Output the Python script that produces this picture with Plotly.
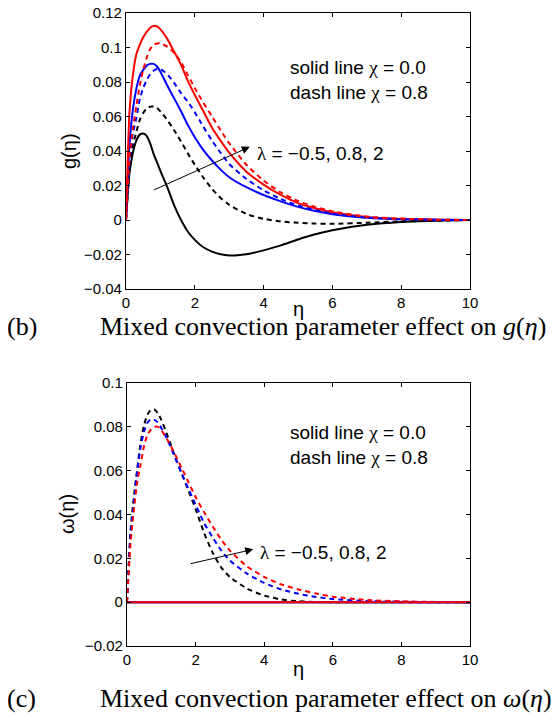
import plotly.graph_objects as go

# ---------------- data ----------------
eta = [0, 0.1, 0.2, 0.3, 0.4, 0.5, 0.6, 0.7, 0.8, 0.9, 1.0, 1.2, 1.4, 1.6, 1.8, 2.0,
       2.25, 2.5, 2.75, 3.0, 3.5, 4.0, 4.5, 5.0, 5.5, 6.0, 7.0, 8.0, 9.0, 10.0]

# g(eta) : solid chi = 0.0
g_lm05_x0 = [0, 0.027, 0.039, 0.046, 0.0495, 0.0502, 0.0488, 0.0445, 0.0385, 0.0335, 0.0285,
             0.019, 0.0085, 0.0, -0.0068, -0.0115, -0.0158, -0.0183, -0.0199, -0.0206,
             -0.0198, -0.0176, -0.0147, -0.0113, -0.0083, -0.0059, -0.0028, -0.0011, -0.0004, 0]
g_l08_x0 = [0, 0.043, 0.064, 0.076, 0.0835, 0.087, 0.0895, 0.0905, 0.0905, 0.089, 0.086,
            0.078, 0.0705, 0.063, 0.055, 0.048, 0.0405, 0.0345, 0.0292, 0.0248,
            0.0190, 0.0145, 0.0108, 0.0076, 0.0052, 0.0034, 0.0013, 0.0004, 0.0001, 0]
g_l2_x0 = [0, 0.062, 0.084, 0.096, 0.1015, 0.106, 0.109, 0.1115, 0.1125, 0.1122, 0.1105,
           0.105, 0.0975, 0.090, 0.0805, 0.0725, 0.063, 0.0535, 0.046, 0.039,
           0.028, 0.0205, 0.0145, 0.0098, 0.0068, 0.0045, 0.0018, 0.0007, 0.0002, 0]
# g(eta) : dashed chi = 0.8
g_lm05_x8 = [0, 0.029, 0.043, 0.051, 0.058, 0.062, 0.0645, 0.0657, 0.0658, 0.065, 0.063,
             0.058, 0.052, 0.0455, 0.0385, 0.032, 0.0245, 0.018, 0.0128, 0.0088,
             0.0035, 0.0007, -0.0008, -0.0016, -0.0021, -0.0022, -0.0016, -0.0008, -0.0003, 0]
g_l08_x8 = [0, 0.033, 0.05, 0.059, 0.070, 0.0765, 0.081, 0.0845, 0.0865, 0.0875, 0.0875,
            0.0845, 0.0795, 0.0735, 0.0685, 0.0625, 0.054, 0.046, 0.039, 0.0325,
            0.0238, 0.0172, 0.0122, 0.0084, 0.0057, 0.0037, 0.0014, 0.0005, 0.0001, 0]
g_l2_x8 = [0, 0.036, 0.053, 0.066, 0.078, 0.087, 0.094, 0.099, 0.1015, 0.1023, 0.1024,
           0.1005, 0.0968, 0.0915, 0.084, 0.0765, 0.068, 0.060, 0.052, 0.0445,
           0.032, 0.0228, 0.016, 0.011, 0.0076, 0.005, 0.002, 0.0008, 0.0002, 0]

# omega(eta) : solid chi = 0.0 (all zero)
w_lm05_x0 = [0.0] * len(eta)
w_l08_x0 = [0.0] * len(eta)
w_l2_x0 = [0.0] * len(eta)
# omega(eta) : dashed chi = 0.8
w_lm05_x8 = [0, 0.032, 0.048, 0.061, 0.073, 0.081, 0.0857, 0.0878, 0.0879, 0.0862, 0.0832,
             0.0752, 0.0665, 0.0585, 0.0505, 0.0425, 0.0315, 0.0225, 0.0158, 0.0115,
             0.0062, 0.003, 0.0012, 0.0004, 0.0001, 0, 0, 0, 0, 0]
w_l08_x8 = [0, 0.030, 0.046, 0.060, 0.071, 0.078, 0.082, 0.0835, 0.0832, 0.082, 0.0795,
            0.0735, 0.066, 0.0585, 0.0515, 0.0445, 0.036, 0.0295, 0.0235, 0.019,
            0.013, 0.0088, 0.0058, 0.0038, 0.0024, 0.0014, 0.0005, 0.0002, 0, 0]
w_l2_x8 = [0, 0.026, 0.042, 0.055, 0.063, 0.0715, 0.0765, 0.0788, 0.080, 0.080, 0.0785,
           0.0735, 0.0675, 0.061, 0.0545, 0.048, 0.041, 0.0345, 0.0285, 0.0235,
           0.0163, 0.0115, 0.0081, 0.0058, 0.004, 0.0025, 0.001, 0.0004, 0.0001, 0]

x_ticks = [0, 2, 4, 6, 8, 10]
g_ticks = [-0.04, -0.02, 0, 0.02, 0.04, 0.06, 0.08, 0.1, 0.12]
g_ticktext = ["\u22120.04", "\u22120.02", "0", "0.02", "0.04", "0.06", "0.08", "0.1", "0.12"]
w_ticks = [-0.02, 0, 0.02, 0.04, 0.06, 0.08, 0.1]
w_ticktext = ["\u22120.02", "0", "0.02", "0.04", "0.06", "0.08", "0.1"]

colors = ["black", "blue", "red"]

# ---------------- figure ----------------
# the page body adds an 8px margin, so the figure is laid out 8px smaller
OFF = 8
W, H = 560 - OFF, 719 - OFF
fig = go.Figure()

solid_g = [g_lm05_x0, g_l08_x0, g_l2_x0]
dash_g = [g_lm05_x8, g_l08_x8, g_l2_x8]
solid_w = [w_lm05_x0, w_l08_x0, w_l2_x0]
dash_w = [w_lm05_x8, w_l08_x8, w_l2_x8]

DASH = "5px,4px"
for ys, c in zip(solid_g, colors):
    fig.add_trace(go.Scatter(x=eta, y=ys, mode="lines", line=dict(color=c, width=2, shape="spline", smoothing=0.6),
                             xaxis="x", yaxis="y", showlegend=False))
for ys, c in zip(dash_g, colors):
    fig.add_trace(go.Scatter(x=eta, y=ys, mode="lines", line=dict(color=c, width=2, dash=DASH, shape="spline", smoothing=0.6),
                             xaxis="x", yaxis="y", showlegend=False))
for ys, c in zip(dash_w, colors):
    fig.add_trace(go.Scatter(x=eta, y=ys, mode="lines", line=dict(color=c, width=2, dash=DASH, shape="spline", smoothing=0.6),
                             xaxis="x2", yaxis="y2", showlegend=False))
for ys, c in zip(solid_w, colors):
    fig.add_trace(go.Scatter(x=eta, y=ys, mode="lines", line=dict(color=c, width=2),
                             xaxis="x2", yaxis="y2", showlegend=False))


def px(x):
    return (x - OFF) / W


def py(y):
    return 1 - (y - OFF) / H


axis_common = dict(showline=True, linecolor="black", linewidth=1.3, mirror="allticks",
                   ticks="inside", ticklen=4, tickwidth=1, tickcolor="black",
                   showgrid=False, zeroline=False, automargin=False, ticklabeloverflow="allow",
                   tickfont=dict(family="Liberation Sans, Arial", size=15, color="black"))

fig.update_layout(
    width=W, height=H,
    margin=dict(l=0, r=0, t=0, b=0, pad=0),
    paper_bgcolor="white", plot_bgcolor="white",
    xaxis=dict(domain=[px(126), px(470)], range=[0, 10], tickvals=x_ticks, anchor="y", **axis_common),
    yaxis=dict(domain=[py(289), py(13)], range=[-0.04, 0.12], tickvals=g_ticks, ticktext=g_ticktext,
               anchor="x", **axis_common),
    xaxis2=dict(domain=[px(127), px(470)], range=[0, 10], tickvals=x_ticks, anchor="y2", **axis_common),
    yaxis2=dict(domain=[py(646), py(383)], range=[-0.02, 0.1], tickvals=w_ticks, ticktext=w_ticktext,
                anchor="x2", **axis_common),
)

sans = "Liberation Sans, Arial"
serif = "Liberation Serif, Times New Roman"
ann = []


def text(x, y, t, size=19, family=sans, xanchor="left", angle=0):
    ann.append(dict(x=px(x), y=py(y), xref="paper", yref="paper", text=t, showarrow=False,
                    xanchor=xanchor, yanchor="middle", textangle=angle,
                    font=dict(family=family, size=size, color="black")))


chi = '<span style="font-family:Liberation Serif">\u03c7</span>'
lam = '<span style="font-family:Liberation Serif">\u03bb</span>'

# plot (b)
text(288, 67, "solid line " + chi + " = 0.0")
text(288, 92, "dash line " + chi + " = 0.8")
text(255, 153, lam + " = \u22120.5, 0.8, 2")
text(69, 151, "g(\u03b7)", size=20, xanchor="center", angle=-90)
text(298, 309, "\u03b7", size=20, xanchor="center")
text(5, 327, "(b)", size=26, family=serif)
text(98, 327, "Mixed convection parameter effect on <i>g</i>(<i>\u03b7</i>)", size=26, family=serif)

# plot (c)
text(288, 433, "solid line " + chi + " = 0.0")
text(288, 457, "dash line " + chi + " = 0.8")
text(258, 552, lam + " = \u22120.5, 0.8, 2")
text(67, 514, "\u03c9(\u03b7)", size=20, xanchor="center", angle=-90)
text(298, 669, "\u03b7", size=20, xanchor="center")
text(5, 698, "(c)", size=26, family=serif)
text(98, 698, "Mixed convection parameter effect on <i>\u03c9</i>(<i>\u03b7</i>)", size=26, family=serif)

# arrows (data coordinates)
arrow_g = dict(tail=(0.765, 0.017), head=(3.6, 0.0424))
arrow_w = dict(tail=(1.81, 0.0174), head=(3.68, 0.0241))
ann.append(dict(x=arrow_g["head"][0], y=arrow_g["head"][1], ax=arrow_g["tail"][0], ay=arrow_g["tail"][1],
                xref="x", yref="y", axref="x", ayref="y", text="", showarrow=True,
                arrowhead=2, arrowsize=1.6, arrowwidth=1, arrowcolor="black"))
ann.append(dict(x=arrow_w["head"][0], y=arrow_w["head"][1], ax=arrow_w["tail"][0], ay=arrow_w["tail"][1],
                xref="x2", yref="y2", axref="x2", ayref="y2", text="", showarrow=True,
                arrowhead=2, arrowsize=1.6, arrowwidth=1, arrowcolor="black"))

fig.update_layout(annotations=ann)
fig.write_html("out.html")
